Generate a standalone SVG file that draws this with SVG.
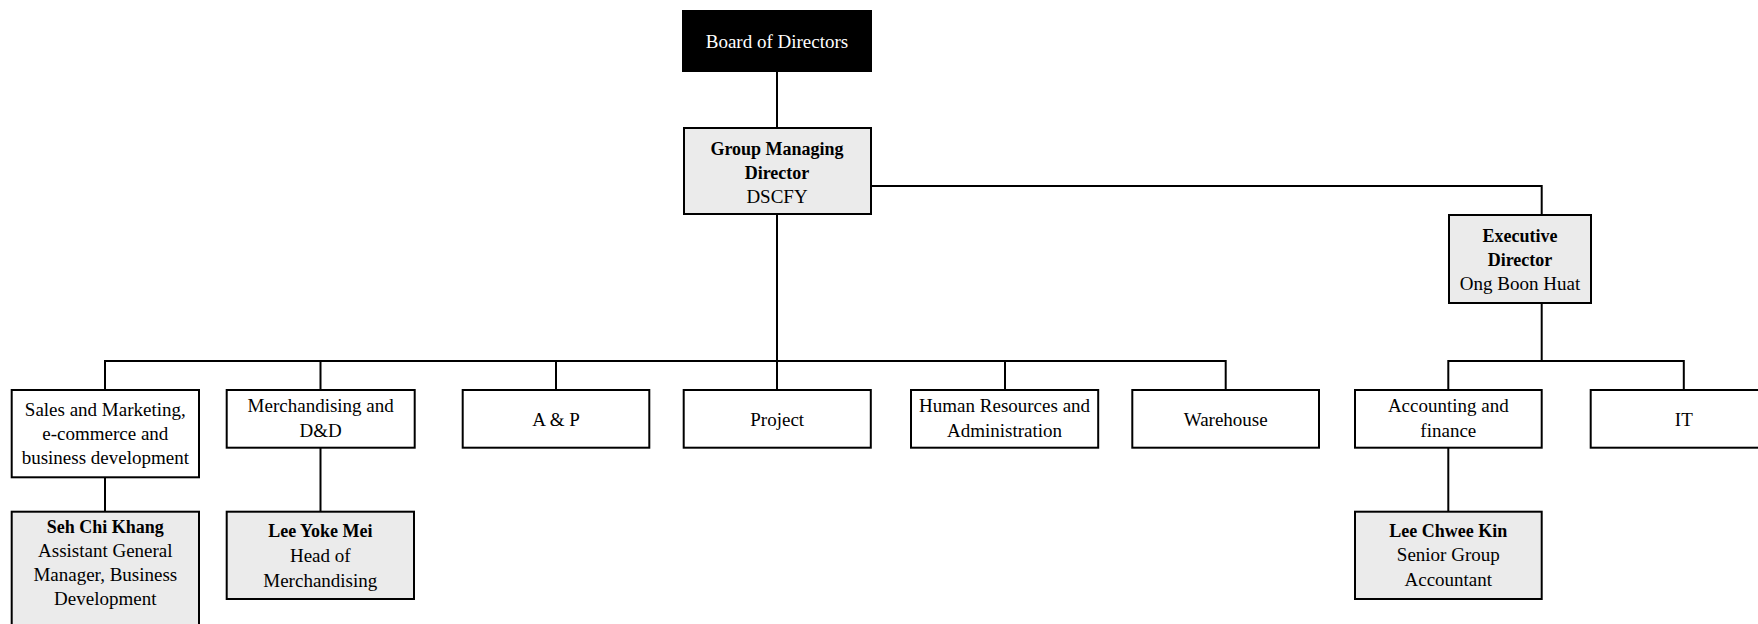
<svg xmlns="http://www.w3.org/2000/svg" width="1758" height="624" viewBox="0 0 1758 624">
<style>
.box{fill:#ffffff;stroke:#000;stroke-width:2}
.grey{fill:#ebebeb;stroke:#000;stroke-width:2}
.black{fill:#000;stroke:#000;stroke-width:2}
.ln{fill:none;stroke:#000;stroke-width:2}
text{font-family:"Liberation Serif","Times New Roman",serif;font-size:19px;text-anchor:middle;fill:#000}
.b{font-weight:bold;font-size:18px}
.w{fill:#fff}
</style>
<rect width="1758" height="624" fill="#fff"/>
<g id="connectors">
<path class="ln" d="M777,71V128"/>
<path class="ln" d="M871,186H1541.7V215"/>
<path class="ln" d="M777,214V361"/>
<path class="ln" d="M105,390V361H1225.7V390"/>
<path class="ln" d="M320.5,361V390M556,361V390M777,361V390M1005,361V390"/>
<path class="ln" d="M1541.7,303V361"/>
<path class="ln" d="M1448.3,390V361H1683.8V390"/>
<path class="ln" d="M105,477.3V511.7"/>
<path class="ln" d="M320.5,447.7V511.7"/>
<path class="ln" d="M1448.3,447.7V511.7"/>
</g>
<g id="board">
<rect class="black" x="683" y="11" width="188" height="60"/>
<text class="w" x="777" y="47.5">Board of Directors</text>
</g>
<g id="gmd">
<rect class="grey" x="684" y="128" width="187" height="86"/>
<text class="b" x="777" y="154.5">Group Managing</text>
<text class="b" x="777" y="178.5">Director</text>
<text x="777" y="202.5">DSCFY</text>
</g>
<g id="ed">
<rect class="grey" x="1449" y="215" width="142" height="88"/>
<text class="b" x="1520" y="241.5">Executive</text>
<text class="b" x="1520" y="265.5">Director</text>
<text x="1520" y="289.5">Ong Boon Huat</text>
</g>
<g id="sales">
<rect class="box" x="11.7" y="390" width="187.3" height="87.3"/>
<text x="105.3" y="416">Sales and Marketing,</text>
<text x="105.3" y="440">e-commerce and</text>
<text x="105.3" y="464">business development</text>
</g>
<g id="merch">
<rect class="box" x="226.7" y="390" width="188" height="57.7"/>
<text x="320.7" y="412">Merchandising and</text>
<text x="320.7" y="437">D&amp;D</text>
</g>
<g id="ap">
<rect class="box" x="462.7" y="390" width="186.6" height="57.7"/>
<text x="556" y="425.5">A &amp; P</text>
</g>
<g id="project">
<rect class="box" x="683.7" y="390" width="187.1" height="57.7"/>
<text x="777.2" y="425.5">Project</text>
</g>
<g id="hr">
<rect class="box" x="911" y="390" width="187.2" height="57.7"/>
<text x="1004.6" y="412">Human Resources and</text>
<text x="1004.6" y="437">Administration</text>
</g>
<g id="warehouse">
<rect class="box" x="1132.3" y="390" width="186.7" height="57.7"/>
<text x="1225.7" y="425.5">Warehouse</text>
</g>
<g id="accounting">
<rect class="box" x="1355" y="390" width="186.7" height="57.7"/>
<text x="1448.3" y="412">Accounting and</text>
<text x="1448.3" y="437">finance</text>
</g>
<g id="it">
<rect class="box" x="1590.7" y="390" width="186.3" height="57.7"/>
<text x="1683.8" y="425.5">IT</text>
</g>
<g id="seh">
<rect class="grey" x="11.7" y="511.7" width="187.3" height="130"/>
<text class="b" x="105.3" y="533">Seh Chi Khang</text>
<text x="105.3" y="557">Assistant General</text>
<text x="105.3" y="581">Manager, Business</text>
<text x="105.3" y="605">Development</text>
</g>
<g id="lym">
<rect class="grey" x="226.7" y="511.7" width="187.3" height="87.3"/>
<text class="b" x="320.3" y="536.5">Lee Yoke Mei</text>
<text x="320.3" y="561.5">Head of</text>
<text x="320.3" y="586.5">Merchandising</text>
</g>
<g id="lck">
<rect class="grey" x="1355" y="511.7" width="186.7" height="87.3"/>
<text class="b" x="1448.3" y="536.5">Lee Chwee Kin</text>
<text x="1448.3" y="561">Senior Group</text>
<text x="1448.3" y="586">Accountant</text>
</g>
</svg>
